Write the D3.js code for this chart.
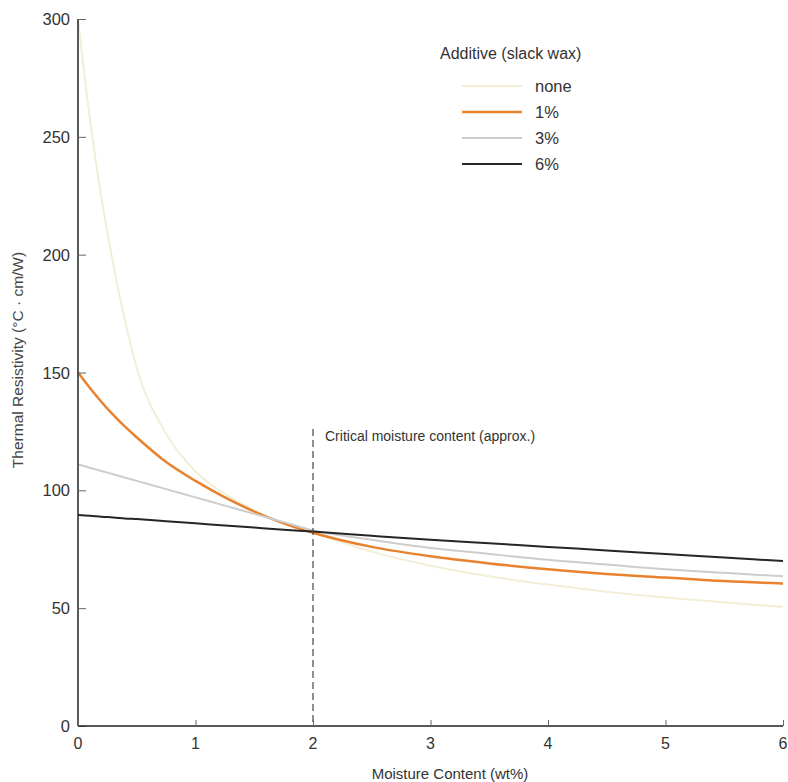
<!DOCTYPE html>
<html>
<head>
<meta charset="utf-8">
<script src="https://cdn.jsdelivr.net/npm/d3@7"></script>
<style>
  body { margin: 0; background: #fff; }
  svg text { font-family: "Liberation Sans", Arial, sans-serif; fill: #333; }
</style>
</head>
<body>
<div id="chart"></div>
<script>
// Moisture content (wt%) sample points for each curve
const moisture = [0, 0.1, 0.2, 0.3, 0.4, 0.5, 0.75, 1, 1.25, 1.5, 1.75, 2, 2.5, 3, 3.5, 4, 4.5, 5, 5.5, 6];

// Thermal resistivity values
const noneVals = [300, 258, 224, 196, 172, 152, 124, 108, 98.5, 91.5, 86, 82, 74, 68, 63.5, 60, 57, 54.5, 52.5, 50.5];
const onePctVals = [150, 143.5, 137.5, 132, 127, 122.5, 112, 104, 97, 91, 86, 82, 76, 72, 69, 66.5, 64.5, 63, 61.5, 60.5];
const threePctVals = [111, 109.6, 108.2, 106.8, 105.4, 104, 100.5, 97, 93.5, 90, 86.5, 83, 79, 75.5, 73, 70.5, 68.5, 66.5, 65, 63.5];
const sixPctVals = [89.5, 89.2, 88.8, 88.5, 88.1, 87.8, 86.9, 86, 85.1, 84.2, 83.3, 82.5, 80.7, 79, 77.5, 76, 74.5, 73, 71.5, 70];

const seriesNames = ['none', '1%', '3%', '6%'];
const seriesValues = [noneVals, onePctVals, threePctVals, sixPctVals];
const seriesColors = ['#f3eed8', '#e8822e', '#cdcdcd', '#262626'];
const seriesWidths = [2, 2.5, 2, 2];

const xTicks = [0, 1, 2, 3, 4, 5, 6];
const yTicks = [0, 50, 100, 150, 200, 250, 300];

const criticalX = 2;
const criticalTop = 126;

const W = 788, H = 782;

const svg = d3.select('#chart').append('svg')
  .attr('width', W)
  .attr('height', H);

const x = d3.scaleLinear().domain([0, 6]).range([78, 783]);
const y = d3.scaleLinear().domain([0, 300]).range([726, 19]);

// Curves
const line = d3.line()
  .x(d => x(d[0]))
  .y(d => y(d[1]))
  .curve(d3.curveMonotoneX);

seriesValues.forEach((vals, i) => {
  svg.append('path')
    .datum(moisture.map((m, j) => [m, vals[j]]))
    .attr('fill', 'none')
    .attr('stroke', seriesColors[i])
    .attr('stroke-width', seriesWidths[i])
    .attr('d', line);
});

// Critical moisture marker
svg.append('line')
  .attr('x1', x(criticalX)).attr('x2', x(criticalX))
  .attr('y1', y(criticalTop)).attr('y2', y(0))
  .attr('stroke', '#444')
  .attr('stroke-width', 1.2)
  .attr('stroke-dasharray', '7,4');

svg.append('text')
  .attr('x', x(criticalX) + 12)
  .attr('y', y(criticalTop) + 12)
  .style('font-size', '14px')
  .text('Critical moisture content (approx.)');

// Y axis (ticks point inward)
const yAxis = svg.append('g')
  .attr('transform', `translate(${x(0)},0)`)
  .call(d3.axisRight(y).tickValues(yTicks).tickSize(8).tickFormat(''));
yAxis.select('.domain').attr('stroke', '#222').attr('stroke-width', 1.5).attr('d', `M0,${y(300)}V${y(0)}`);
yAxis.selectAll('.tick line').attr('stroke', '#666');

svg.append('g').selectAll('text')
  .data(yTicks)
  .enter().append('text')
  .attr('x', x(0) - 8)
  .attr('y', d => y(d) + 6)
  .attr('text-anchor', 'end')
  .style('font-size', '16.5px')
  .text(d => d);

// X axis (ticks point up)
const xAxis = svg.append('g')
  .attr('transform', `translate(0,${y(0)})`)
  .call(d3.axisTop(x).tickValues(xTicks).tickSize(6).tickFormat(''));
xAxis.select('.domain').attr('stroke', '#222').attr('stroke-width', 1.5).attr('d', `M${x(0)},0H${x(6)}`);
xAxis.selectAll('.tick line').attr('stroke', '#666');

svg.append('g').selectAll('text')
  .data(xTicks)
  .enter().append('text')
  .attr('x', d => x(d))
  .attr('y', y(0) + 23)
  .attr('text-anchor', 'middle')
  .style('font-size', '16px')
  .text(d => d);

// Axis titles
svg.append('text')
  .attr('x', 450)
  .attr('y', 779)
  .attr('text-anchor', 'middle')
  .style('font-size', '15px')
  .text('Moisture Content (wt%)');

svg.append('text')
  .attr('transform', 'translate(23,360) rotate(-90)')
  .attr('text-anchor', 'middle')
  .style('font-size', '15.5px')
  .style('fill', '#444')
  .text('Thermal Resistivity (°C · cm/W)');

// Legend
const legend = svg.append('g');
legend.append('text')
  .attr('x', 440)
  .attr('y', 59)
  .style('font-size', '16px')
  .text('Additive (slack wax)');

seriesNames.forEach((name, i) => {
  const ly = 86 + i * 26;
  legend.append('line')
    .attr('x1', 462).attr('x2', 522)
    .attr('y1', ly).attr('y2', ly)
    .attr('stroke', seriesColors[i])
    .attr('stroke-width', seriesWidths[i]);
  legend.append('text')
    .attr('x', 535)
    .attr('y', ly + 6)
    .style('font-size', '16.5px')
    .text(name);
});
</script>
</body>
</html>
